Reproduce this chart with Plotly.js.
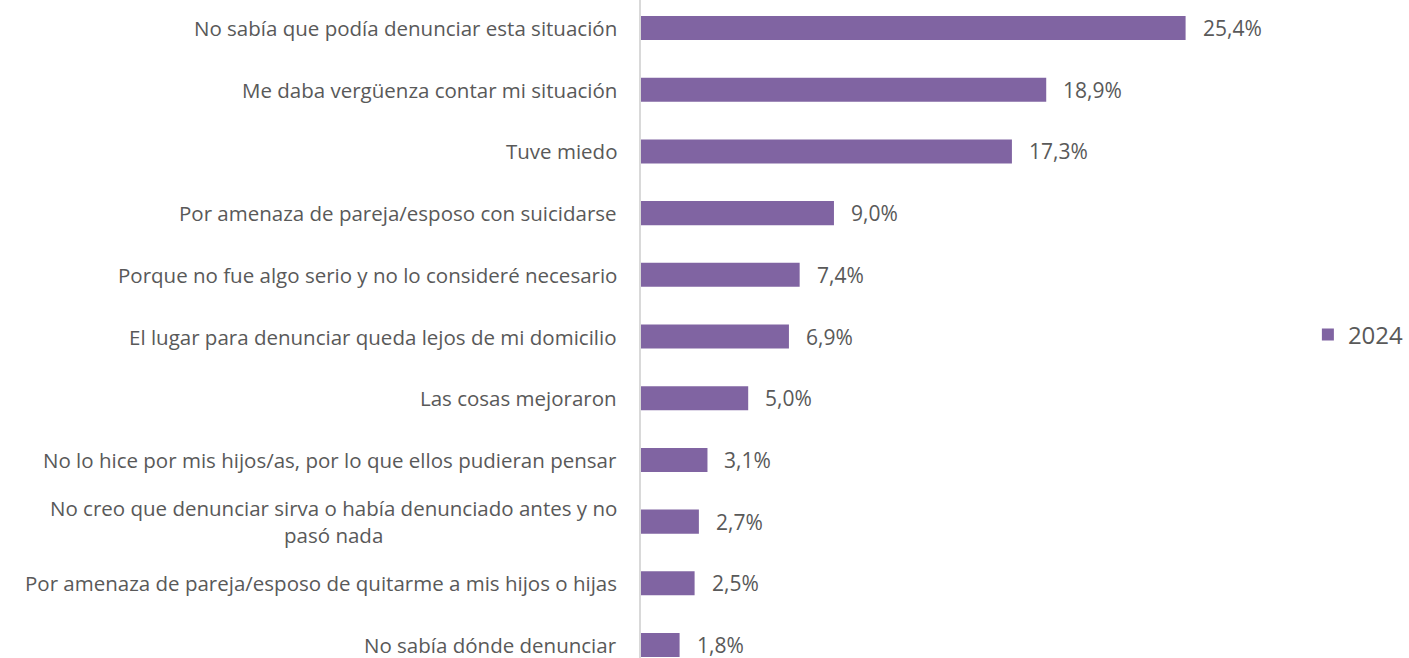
<!DOCTYPE html>
<html>
<head>
<meta charset="utf-8">
<script src="https://cdn.plot.ly/plotly-3.0.1.min.js"></script>
<style>html,body{margin:0;padding:0;background:#fff;}#chart{width:1409px;height:658px;}</style>
</head>
<body>
<div id="chart"></div>
<script>
const categories = [
  "No sabía que podía denunciar esta situación",
  "Me daba vergüenza contar mi situación",
  "Tuve miedo",
  "Por amenaza de pareja/esposo con suicidarse",
  "Porque no fue algo serio y no lo consideré necesario",
  "El lugar para denunciar queda lejos de mi domicilio",
  "Las cosas mejoraron",
  "No lo hice por mis hijos/as, por lo que ellos pudieran pensar",
  "No creo que denunciar sirva o había denunciado antes y no<br>pasó nada",
  "Por amenaza de pareja/esposo de quitarme a mis hijos o hijas",
  "No sabía dónde denunciar"
];
const values2024 = [25.4, 18.9, 17.3, 9.0, 7.4, 6.9, 5.0, 3.1, 2.7, 2.5, 1.8];
const seriesName = "2024";

const idx = categories.map((c, i) => i);
const fmt = v => v.toFixed(1).replace('.', ',') + '%';
const textColor = '#595959';
const fontFam = '"Open Sans", "Liberation Sans", sans-serif';

const annotations = [];
categories.forEach((c, i) => {
  annotations.push({
    x: 0, y: i, xref: 'x', yref: 'y', text: c, showarrow: false,
    xanchor: 'right', yanchor: 'middle', align: 'center', xshift: -22,
    font: {family: fontFam, size: 20.5, color: textColor}
  });
  annotations.push({
    x: values2024[i], y: i, xref: 'x', yref: 'y', text: fmt(values2024[i]), showarrow: false,
    xanchor: 'left', yanchor: 'middle', xshift: 15,
    font: {family: fontFam, size: 21, color: textColor}
  });
});

const trace = {
  type: 'bar', orientation: 'h', name: seriesName,
  x: values2024, y: idx,
  marker: {color: '#8064A2'},
  hoverinfo: 'none'
};

const layout = {
  width: 1409, height: 658,
  margin: {l: 641, r: 124, t: 0, b: 0},
  paper_bgcolor: '#fff', plot_bgcolor: '#fff',
  bargap: 0.61,
  xaxis: {range: [0, 29.85], showgrid: false, zeroline: false, showticklabels: false, showline: false, ticks: ''},
  yaxis: {range: [10.21, -0.454], showgrid: false, zeroline: false, showticklabels: false, ticks: '',
          showline: true, linecolor: '#D9D9D9', linewidth: 2},
  showlegend: true,
  legend: {x: 1.042, y: 0.491, xanchor: 'left', yanchor: 'middle', font: {family: fontFam, size: 24, color: textColor},
           itemwidth: 30},
  annotations: annotations,
  font: {family: fontFam}
};

Plotly.newPlot('chart', [trace], layout, {displayModeBar: false, staticPlot: true});
</script>
</body>
</html>
